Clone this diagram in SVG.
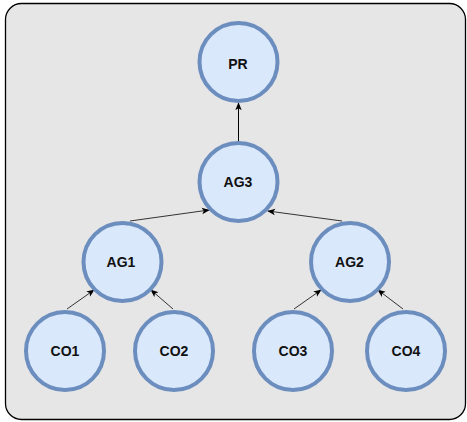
<svg xmlns="http://www.w3.org/2000/svg" width="467" height="422" viewBox="0 0 467 422">
  <style>
    .node circle { fill: #dae8fc; stroke: #6c8ebf; stroke-width: 4; }
    .node text { font-family: "Liberation Sans", Arial, sans-serif; font-size: 14px; font-weight: bold; fill: #111; text-anchor: middle; }
    .edge { fill: none; stroke: #333; stroke-width: 1; marker-end: url(#arrow); }
    .edge.main { stroke: #000; }
  </style>
  <defs>
    <marker id="arrow" viewBox="0 0 10 10" refX="9" refY="5" markerWidth="8" markerHeight="8" markerUnits="userSpaceOnUse" orient="auto">
      <path d="M0,1 L10,5 L0,9 L2.5,5 Z" fill="#000"/>
    </marker>
  </defs>

  <!-- container -->
  <rect x="5.5" y="3.5" width="460" height="416" rx="16" ry="16" fill="#e6e6e6" stroke="#000" stroke-width="1.3"/>

  <!-- connectors -->
  <g id="edges">
    <line class="edge main" x1="238.5" y1="141" x2="238.5" y2="103"/>
    <line class="edge" x1="130" y1="221" x2="209" y2="210"/>
    <line class="edge" x1="342" y1="221" x2="268" y2="211"/>
    <line class="edge" x1="67" y1="309" x2="94" y2="290"/>
    <line class="edge" x1="173" y1="309" x2="151" y2="290"/>
    <line class="edge" x1="294" y1="309" x2="321" y2="290"/>
    <line class="edge" x1="403" y1="309" x2="378" y2="290"/>
  </g>

  <!-- nodes -->
  <g id="PR" class="node"><circle cx="238.5" cy="62" r="39"/><text x="238" y="69">PR</text></g>
  <g id="AG3" class="node"><circle cx="238.5" cy="182" r="39"/><text x="238" y="187">AG3</text></g>
  <g id="AG1" class="node"><circle cx="122.5" cy="262" r="39"/><text x="121" y="267">AG1</text></g>
  <g id="AG2" class="node"><circle cx="350" cy="262" r="39"/><text x="349.5" y="267">AG2</text></g>
  <g id="CO1" class="node"><circle cx="65" cy="351" r="39"/><text x="65" y="356">CO1</text></g>
  <g id="CO2" class="node"><circle cx="174" cy="351" r="39"/><text x="174" y="356">CO2</text></g>
  <g id="CO3" class="node"><circle cx="293" cy="351" r="39"/><text x="293" y="356">CO3</text></g>
  <g id="CO4" class="node"><circle cx="406" cy="351" r="39"/><text x="406" y="356">CO4</text></g>
</svg>
